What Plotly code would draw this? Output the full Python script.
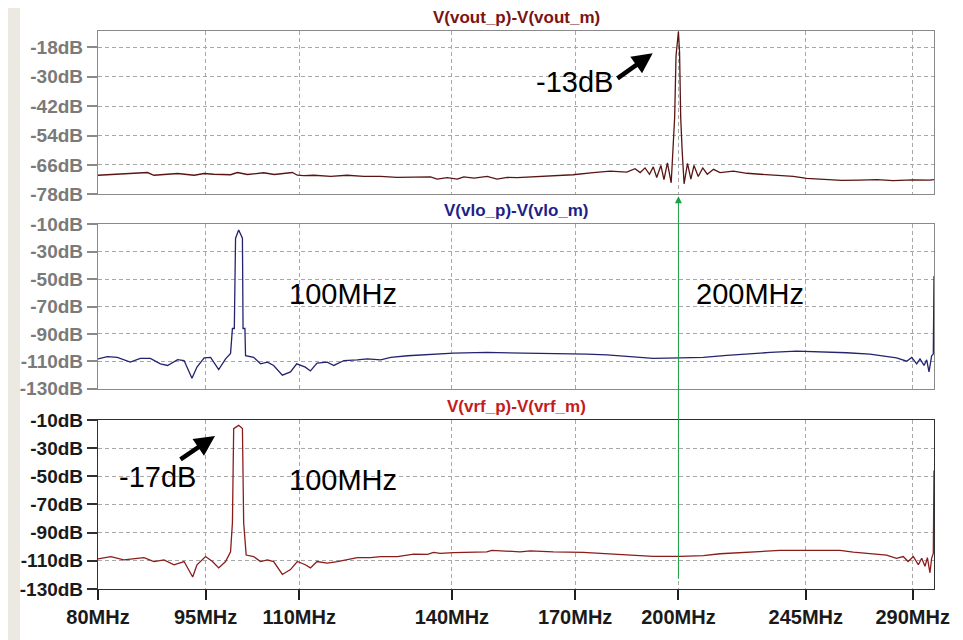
import numpy as np
import plotly.graph_objects as go

# ---------------- axis labelling ----------------
TICK_MHZ = [80, 95, 110, 140, 170, 200, 245, 290]
TICK_LABELS = ["80MHz", "95MHz", "110MHz", "140MHz", "170MHz", "200MHz", "245MHz", "290MHz"]
# where each labelled frequency sits along the (non-uniform) frequency axis, as fraction of width
SCALE_MHZ = TICK_MHZ + [299]
SCALE_POS = [0.0, 0.1287, 0.2407, 0.4233, 0.5707, 0.6943, 0.8466, 0.9745, 1.0]

TOP_TICKS = [-78, -66, -54, -42, -30, -18]
MID_TICKS = [-130, -110, -90, -70, -50, -30, -10]
BOT_TICKS = [-130, -110, -90, -70, -50, -30, -10]

# ---------------- data (MHz, dB) ----------------
VOUT_MHZ = [80.0, 86.9, 87.8, 91.1, 93.4, 94.8, 96.3, 99.0, 100.1, 101.7, 104.3, 106.0, 108.9,
            109.7, 110.9, 112.9, 116.2, 119.4, 122.7, 126.0, 129.2, 132.5, 135.8, 137.1, 139.1,
            141.3, 142.9, 145.4, 148.6, 151.0, 153.5, 155.9, 163.1, 169.5, 175.3, 180.2, 185.0,
            187.4, 188.9, 190.3, 191.6, 192.7, 193.7, 194.9, 195.8, 196.8, 197.9, 198.5, 198.9,
            199.3, 200.0, 200.4, 200.8, 201.3, 202.0, 203.2, 204.4, 205.5, 207.0, 208.6, 210.2,
            212.4, 214.7, 219.4, 224.2, 228.9, 234.8, 240.6, 245.4, 253.8, 260.0, 267.8, 275.0,
            281.8, 290.0, 297.3, 299.0]
VOUT_DB = [-70.2, -69.1, -70.2, -69.5, -70.2, -69.5, -69.8, -70.0, -69.1, -69.9, -69.2, -69.9, -69.1,
           -70.2, -70.4, -70.2, -70.7, -70.2, -70.7, -70.7, -71.1, -70.9, -70.9, -71.8, -71.2,
           -71.8, -70.9, -71.4, -70.7, -71.8, -71.1, -71.2, -70.5, -70.0, -69.1, -68.5, -68.9,
           -67.5, -69.1, -67.2, -69.8, -66.8, -71.1, -66.2, -72.0, -65.2, -73.3, -59.2, -46.6,
           -21.5, -11.5, -20.1, -46.6, -59.8, -73.7, -65.4, -71.8, -66.2, -70.7, -67.2, -69.8,
           -67.8, -69.1, -68.5, -69.4, -69.8, -70.2, -70.7, -71.5, -72.0, -72.3, -72.2, -72.0,
           -72.4, -72.1, -72.2, -72.0]

VLO_MHZ = [80.0, 81.3, 82.7, 84.5, 85.9, 87.3, 88.7, 89.7, 91.1, 92.0, 93.1, 93.8, 94.8, 95.8,
           97.1, 98.2, 99.0, 99.3, 99.6, 99.8, 100.3, 100.9, 101.0, 101.3, 101.4, 102.7, 103.8,
           104.9, 105.9, 107.3, 108.6, 109.6, 111.2, 112.2, 113.5, 115.5, 116.8, 118.8, 121.4,
           123.4, 126.0, 128.0, 131.3, 135.2, 137.1, 140.4, 148.5, 156.6, 164.7, 173.4, 179.2,
           184.0, 192.7, 200.6, 208.8, 217.1, 226.5, 232.4, 241.8, 251.0, 262.2, 272.0, 279.0,
           283.2, 287.5, 289.6, 291.7, 293.1, 294.8, 295.9, 296.9, 298.0, 298.7, 299.0]
VLO_DB = [-108.2, -106.6, -107.1, -110.6, -107.8, -107.8, -111.8, -113.0, -108.7, -109.4, -122.4,
          -114.2, -107.5, -107.1, -116.0, -108.2, -104.2, -86.0, -86.0, -20.0, -14.0, -20.0, -86.0,
          -86.0, -105.9, -107.1, -111.8, -110.6, -113.0, -120.1, -117.7, -111.8, -114.2, -117.0,
          -111.3, -110.6, -113.0, -109.4, -108.9, -108.2, -108.9, -107.1, -105.9, -105.2, -104.7,
          -104.0, -103.5, -103.8, -104.0, -104.7, -105.2, -106.3, -107.8, -107.5, -107.1, -105.6,
          -104.2, -103.5, -102.5, -103.0, -103.7, -104.7, -106.6, -107.5, -109.9, -107.1, -111.8,
          -108.2, -113.0, -108.9, -117.7, -105.9, -104.7, -47.6]

VRF_MHZ = [80.0, 81.8, 83.6, 85.0, 86.4, 87.8, 89.2, 90.6, 92.0, 93.2, 93.8, 95.0, 96.1, 97.1,
           98.2, 99.0, 99.3, 99.5, 100.3, 100.9, 101.1, 101.5, 102.7, 103.8, 104.9, 105.9, 107.3,
           108.6, 109.7, 111.2, 112.2, 113.5, 115.5, 117.5, 119.4, 121.4, 124.0, 126.0, 129.3,
           132.5, 135.2, 136.4, 137.7, 140.4, 148.5, 149.7, 156.6, 159.1, 164.7, 172.4, 181.1,
           187.9, 192.7, 200.6, 208.8, 214.7, 226.5, 235.9, 245.4, 259.4, 265.0, 273.4, 279.0,
           283.2, 286.0, 288.1, 290.3, 292.4, 293.8, 295.2, 296.2, 297.3, 298.0, 298.7, 299.0]
VRF_DB = [-108.6, -107.0, -109.3, -108.6, -107.7, -110.5, -109.3, -112.8, -110.5, -121.5, -112.8,
          -107.0, -110.5, -115.0, -110.5, -103.6, -82.9, -16.2, -13.9, -16.2, -82.9, -105.9,
          -107.0, -110.5, -109.3, -110.5, -119.7, -116.2, -110.5, -112.8, -115.0, -110.5, -111.6,
          -110.5, -109.3, -107.7, -107.7, -107.0, -107.0, -105.2, -105.4, -104.0, -104.7, -104.2,
          -103.6, -102.6, -103.6, -102.9, -103.6, -104.0, -105.2, -106.3, -106.8, -106.8, -106.3,
          -105.0, -103.6, -102.6, -102.6, -102.6, -103.8, -105.0, -105.9, -108.2, -107.0, -110.5,
          -107.0, -112.8, -108.2, -113.9, -107.7, -118.5, -108.2, -104.7, -46.0]

MARKER_MHZ = 200  # green cursor


def xpos(mhz):
    return np.interp(mhz, SCALE_MHZ, SCALE_POS)


FONT = "Liberation Sans, Arial, sans-serif"
GRID = "#a8a8a8"
FRAME = "#8a8a8a"

fig = go.Figure()
fig.add_trace(go.Scatter(x=xpos(VOUT_MHZ), y=VOUT_DB, mode="lines",
                         line=dict(color="#5a1414", width=1.3), xaxis="x", yaxis="y"))
fig.add_trace(go.Scatter(x=xpos(VLO_MHZ), y=VLO_DB, mode="lines",
                         line=dict(color="#23236e", width=1.3), xaxis="x2", yaxis="y2"))
fig.add_trace(go.Scatter(x=xpos(VRF_MHZ), y=VRF_DB, mode="lines",
                         line=dict(color="#8a1c1c", width=1.3), xaxis="x3", yaxis="y3"))

tickpos = list(xpos(TICK_MHZ))


def xax(anchor, labels, linecolor):
    d = dict(domain=[0, 1], range=[0, 1], anchor=anchor, tickvals=tickpos,
             showgrid=True, gridcolor=GRID, griddash="4px,3px", gridwidth=1,
             zeroline=False, showline=True, mirror=True, linecolor=linecolor, linewidth=1.2)
    if labels:
        d.update(ticktext=TICK_LABELS, ticks="outside", ticklen=10, tickcolor="#202020",
                 tickwidth=1.5, tickfont=dict(family=FONT, size=20, color="#1a1a1a", weight="bold"))
    else:
        d.update(showticklabels=False, ticks="")
    return d


def yax(anchor, domain, rng, ticks, linecolor, labcolor):
    return dict(domain=domain, range=rng, anchor=anchor, tickvals=ticks,
                ticktext=[f"{v}dB" for v in ticks], ticks="outside", ticklen=10,
                tickcolor=linecolor, tickwidth=1.5,
                tickfont=dict(family=FONT, size=19, color=labcolor, weight="bold"),
                showgrid=True, gridcolor=GRID, griddash="4px,3px", gridwidth=1,
                zeroline=False, showline=True, mirror=True, linecolor=linecolor, linewidth=1.2)


# page body has an 8px margin: figure sits at (8, 8) in the window
fig.update_layout(
    width=955, height=632,
    margin=dict(l=90, r=29, t=23, b=35),
    paper_bgcolor="#ECE9E2", plot_bgcolor="white",
    showlegend=False,
    xaxis=xax("y", False, FRAME),
    xaxis2=xax("y2", False, FRAME),
    xaxis3=xax("y3", True, "#303030"),
    yaxis=yax("x", [0.7073, 1.0], [-78, -11.3], TOP_TICKS, FRAME, "#7a7a7a"),
    yaxis2=yax("x2", [0.3589, 0.6533], [-130, -10], MID_TICKS, FRAME, "#7a7a7a"),
    yaxis3=yax("x3", [0.0, 0.3031], [-130, -10], BOT_TICKS, "#303030", "#1a1a1a"),
)

# white panel behind the plots
fig.add_shape(type="rect", xref="paper", yref="paper", x0=-0.0933, x1=1.1, y0=-0.2, y1=1.1,
              fillcolor="white", line=dict(width=0), layer="below")

# pane titles
for txt, yy, col in [("V(vout_p)-V(vout_m)", 1.0244, "#7a1414"),
                     ("V(vlo_p)-V(vlo_m)", 0.6777, "#1f1f8a"),
                     ("V(vrf_p)-V(vrf_m)", 0.3275, "#c41c1c")]:
    fig.add_annotation(text=txt, xref="paper", yref="paper", x=0.5, y=yy, showarrow=False,
                       font=dict(family=FONT, size=17, color=col, weight="bold"),
                       xanchor="center", yanchor="middle")

# callout texts (positions given in window pixels, converted to paper fractions)
NOTE_FONT = dict(family=FONT, size=29, color="black")
for txt, px, py in [("-13dB", 574, 83), ("100MHz", 342.5, 302), ("200MHz", 749.5, 302),
                    ("-17dB", 157, 490), ("100MHz", 342.5, 493)]:
    fig.add_annotation(text=txt, xref="paper", yref="paper", x=(px - 98) / 836, y=(605 - py) / 574,
                       showarrow=False, font=NOTE_FONT, xanchor="center", yanchor="middle")

# thick black arrows
for tip, tail in [((652.7, 54), (616, 80)), ((215, 447.5), (179, 472))]:
    fig.add_annotation(text="", xref="paper", yref="paper",
                       x=(tip[0] - 98) / 836, y=(605 - tip[1]) / 574,
                       ax=tail[0] - tip[0], ay=tail[1] - tip[1],
                       showarrow=True, arrowhead=2, arrowwidth=4.5, arrowsize=0.9, arrowcolor="black")

# green cursor line with arrowhead at top
fig.add_annotation(text="", xref="x3", yref="paper", x=float(xpos(MARKER_MHZ)), y=(605 - 201) / 574,
                   ax=0, ay=384, showarrow=True, arrowhead=2, arrowwidth=1, arrowsize=1.4,
                   arrowcolor="#18a048")

fig.write_html("out.html")
